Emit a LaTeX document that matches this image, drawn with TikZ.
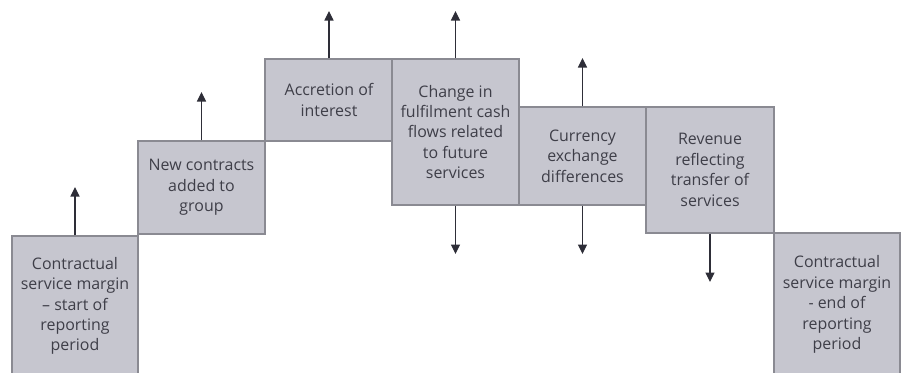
\documentclass[tikz,border=0pt]{standalone}
\usepackage{fontspec}
\setmainfont{Open Sans}
\usetikzlibrary{arrows.meta}
\definecolor{boxfill}{HTML}{C6C6CF}
\definecolor{boxline}{HTML}{8A8A92}
\definecolor{txt}{HTML}{3E3E48}
\definecolor{arr}{HTML}{2E2E38}
\tikzset{
  stepbox/.style={draw=boxline, line width=1.2bp, fill=boxfill, text=txt, align=center,
    inner sep=0pt, font=\fontsize{16}{20.5}\selectfont},
  flow/.style={draw=arr, line width=1.1bp, -{Triangle[width=9bp,length=9.5bp]}}
}
\begin{document}
\begin{tikzpicture}[x=1bp,y=-1bp]
\clip (0,0) rectangle (901,372);
\node[stepbox, minimum width=126bp, minimum height=140bp] (b1) at (75,306) {Contractual\\service margin\\– start of\\reporting\\period};
\node[stepbox, minimum width=127bp, minimum height=93bp] (b2) at (201.5,187.5) {New contracts\\added to\\group};
\node[stepbox, minimum width=128bp, minimum height=82bp] (b3) at (329,100) {Accretion of\\interest};
\node[stepbox, minimum width=127bp, minimum height=146bp] (b4) at (455.5,132) {Change in\\fulfilment cash\\flows related\\to future\\services};
\node[stepbox, minimum width=127bp, minimum height=98bp] (b5) at (582.5,156) {Currency\\exchange\\differences};
\node[stepbox, minimum width=128bp, minimum height=126bp] (b6) at (710,170) {Revenue\\reflecting\\transfer of\\services};
\node[stepbox, minimum width=126bp, minimum height=143bp] (b7) at (837,304.5) {Contractual\\service margin\\- end of\\reporting\\period};
\coordinate (u1) at (b1.north |- 0,187);
\coordinate (u2) at (b2.north |- 0,92);
\coordinate (u3) at (b3.north |- 0,11);
\coordinate (u4) at (b4.north |- 0,11);
\coordinate (d4) at (b4.south |- 0,254);
\coordinate (u5) at (b5.north |- 0,58);
\coordinate (d5) at (b5.south |- 0,254);
\coordinate (d6) at (b6.south |- 0,282);
\draw[flow] (b1.north) -- (u1);
\draw[flow] (b2.north) -- (u2);
\draw[flow] (b3.north) -- (u3);
\draw[flow] (b4.north) -- (u4);
\draw[flow] (b4.south) -- (d4);
\draw[flow] (b5.north) -- (u5);
\draw[flow] (b5.south) -- (d5);
\draw[flow] (b6.south) -- (d6);
\end{tikzpicture}
\end{document}
